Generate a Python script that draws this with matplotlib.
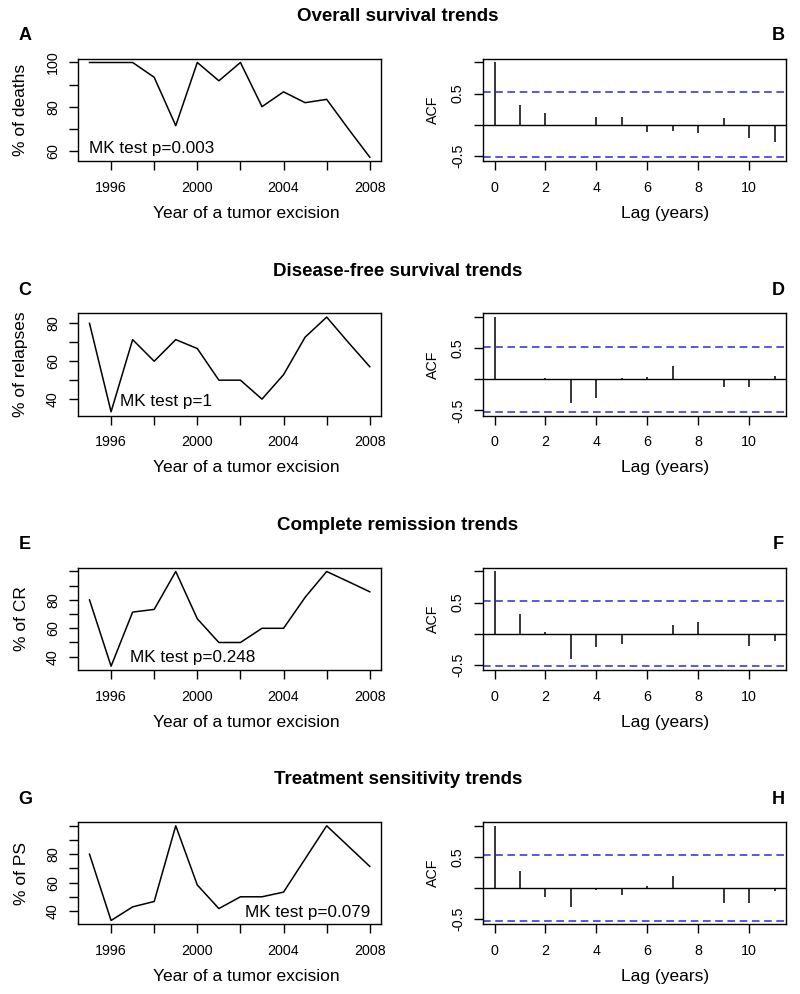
import matplotlib
matplotlib.use('Agg')
import matplotlib.pyplot as plt

plt.rcParams['font.family'] = ['Liberation Sans', 'DejaVu Sans']

# ---------------- data ----------------
years = list(range(1995, 2009))
deaths = [100, 100, 100, 93.3, 71.4, 100, 91.7, 100, 80, 86.7, 81.8, 83.3, 70, 57.1]
relapses = [80, 33.3, 71.4, 60, 71.4, 66.7, 50, 50, 40, 52.9, 72.7, 83.3, 70, 57.1]
cr = [80, 33.3, 71.4, 73.3, 100, 66.7, 50, 50, 60, 60, 81.8, 100, 92.9, 85.7]
ps = [80, 33.3, 42.9, 46.7, 100, 58.3, 41.7, 50, 50, 53.3, 76.7, 100, 85.7, 71.4]

lags = list(range(12))
acf_os = [1.0, 0.32, 0.186, -0.027, 0.12, 0.12, -0.12, -0.11, -0.13, 0.11, -0.22, -0.28]
acf_dfs = [1.0, 0.005, 0.02, -0.39, -0.30, 0.02, 0.03, 0.21, -0.005, -0.12, -0.12, 0.05]
acf_cr = [1.0, 0.32, 0.02, -0.40, -0.22, -0.165, 0.0, 0.14, 0.19, -0.02, -0.20, -0.12]
acf_ps = [1.0, 0.28, -0.14, -0.31, -0.027, -0.11, 0.03, 0.19, -0.015, -0.24, -0.25, -0.05]
acf_ci = 0.524

titles = ["Overall survival trends", "Disease-free survival trends",
          "Complete remission trends", "Treatment sensitivity trends"]
ylabels = ["% of deaths", "% of relapses", "% of CR", "% of PS"]
mk_texts = ["MK test p=0.003", "MK test p=1", "MK test p=0.248", "MK test p=0.079"]
letters_left = ["A", "C", "E", "G"]
letters_right = ["B", "D", "F", "H"]
series = [deaths, relapses, cr, ps]
acfs = [acf_os, acf_dfs, acf_cr, acf_ps]
yticks_left = [[60, 70, 80, 90, 100], [40, 50, 60, 70, 80],
               [40, 50, 60, 70, 80, 90, 100], [40, 50, 60, 70, 80, 90, 100]]
ylabels_shown = [[60, 80, 100], [40, 60, 80], [40, 60, 80], [40, 60, 80]]
xticks_left = [1996, 1998, 2000, 2002, 2004, 2006, 2008]
xlabels_shown = [1996, 2000, 2004, 2008]
acf_yticks = [-0.5, 0.0, 0.5, 1.0]
acf_ylabels_shown = [-0.5, 0.5]
acf_xticks = [0, 2, 4, 6, 8, 10]

# MK text placement (axes fraction, ha)
mk_pos = [(0.036, 0.082, 'left'), (0.139, 0.09, 'left'),
          (0.172, 0.075, 'left'), (0.964, 0.071, 'right')]

# ---------------- layout ----------------
W, H = 800, 994
fig = plt.figure(figsize=(W / 100, H / 100), dpi=100)


def rect(x0, y0, x1, y1):
    return [x0 / W, 1 - y1 / H, (x1 - x0) / W, (y1 - y0) / H]


tops = [58.7, 313.3, 567.7, 822.0]
box_h = 102.3
LX0, LX1 = 78.3, 381.0
RX0, RX1 = 483.3, 786.0
BLUE = '#2a2ae0'


def style_axes(ax):
    for s in ax.spines.values():
        s.set_linewidth(1.0)
    ax.tick_params(direction='out', length=6.2, width=1.0, labelsize=10.3)
    ax.tick_params(axis='x', pad=8.0)
    ax.tick_params(axis='y', pad=7.0)
    for lab in ax.get_yticklabels():
        lab.set_rotation(90)
        lab.set_va('center')


def rlim(vals, frac=0.04):
    lo, hi = min(vals), max(vals)
    r = hi - lo
    return lo - frac * r, hi + frac * r


for i in range(4):
    top = tops[i]
    bot = top + box_h

    # ---- left: time series ----
    ax = fig.add_axes(rect(LX0, top, LX1, bot))
    ax.plot(years, series[i], color='black', lw=1.1)
    ax.set_xlim(*rlim(years))
    ax.set_ylim(*rlim(series[i]))
    ax.set_xticks(xticks_left)
    ax.set_xticklabels([str(t) if t in xlabels_shown else '' for t in xticks_left])
    ax.set_yticks(yticks_left[i])
    ax.set_yticklabels([str(t) if t in ylabels_shown[i] else '' for t in yticks_left[i]])
    style_axes(ax)
    fx, fy, ha = mk_pos[i]
    ax.text(fx, fy, mk_texts[i], transform=ax.transAxes, ha=ha, va='baseline',
            fontsize=12.3)

    fig.text(246 / W, 1 - (bot + 52.3) / H, "Year of a tumor excision",
             ha='center', va='center', fontsize=12.5)
    fig.text(21 / W, 1 - (top + box_h / 2) / H, ylabels[i], rotation=90,
             ha='center', va='center', fontsize=12.5)

    # ---- right: ACF ----
    ax2 = fig.add_axes(rect(RX0, top, RX1, bot))
    ax2.vlines(lags, 0, acfs[i], color='black', lw=1.1)
    ax2.axhline(0, color='black', lw=1.0)
    ax2.axhline(acf_ci, color=BLUE, lw=1.1, dashes=(5, 3))
    ax2.axhline(-acf_ci, color=BLUE, lw=1.1, dashes=(5, 3))
    ax2.set_xlim(*rlim(lags))
    ax2.set_ylim(*rlim(acfs[i] + [acf_ci, -acf_ci]))
    ax2.set_xticks(acf_xticks)
    ax2.set_xticklabels([str(t) for t in acf_xticks])
    ax2.set_yticks(acf_yticks)
    ax2.set_yticklabels([("%g" % t) if t in acf_ylabels_shown else '' for t in acf_yticks])
    style_axes(ax2)

    fig.text(665 / W, 1 - (bot + 52.3) / H, "Lag (years)",
             ha='center', va='center', fontsize=12.5)
    fig.text(433 / W, 1 - (top + box_h / 2) / H, "ACF", rotation=90,
             ha='center', va='center', fontsize=10.3)

    # ---- titles and panel letters ----
    fig.text(398 / W, 1 - (top - 42) / H, titles[i], ha='center', va='center',
             fontsize=13.5, fontweight='bold')
    fig.text(25 / W, 1 - (top - 23) / H, letters_left[i], ha='center', va='center',
             fontsize=13, fontweight='bold')
    fig.text(778 / W, 1 - (top - 23) / H, letters_right[i], ha='center', va='center',
             fontsize=13, fontweight='bold')

fig.savefig('out.png', dpi=100)
